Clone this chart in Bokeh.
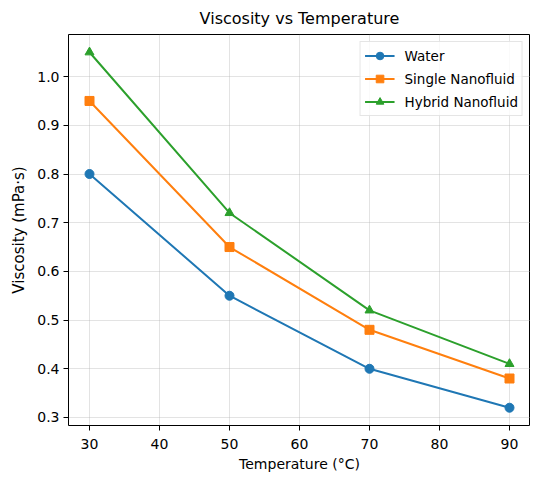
from bokeh.plotting import figure
from bokeh.models import FixedTicker, Range1d, Legend, LegendItem, NumeralTickFormatter, Title
from bokeh.embed import file_html
from bokeh.resources import INLINE

temperature = [30, 50, 70, 90]
water = [0.80, 0.55, 0.40, 0.32]
single_nf = [0.95, 0.65, 0.48, 0.38]
hybrid_nf = [1.05, 0.72, 0.52, 0.41]

series = [
    ("Water", water, "#1f77b4", "circle"),
    ("Single Nanofluid", single_nf, "#ff7f0e", "square"),
    ("Hybrid Nanofluid", hybrid_nf, "#2ca02c", "triangle"),
]

x_ticks = [30, 40, 50, 60, 70, 80, 90]
y_ticks = [0.3, 0.4, 0.5, 0.6, 0.7, 0.8, 0.9, 1.0]

FONT = "DejaVu Sans"

p = figure(width=530, height=474, output_backend="svg", toolbar_location=None,
           title="Viscosity vs Temperature",
           x_range=Range1d(27, 93), y_range=Range1d(0.2835, 1.0865),
           min_border_left=0, min_border_right=0, min_border_top=0, min_border_bottom=0)

p.title.text_font = FONT
p.title.text_font_size = "16px"
p.title.text_font_style = "normal"
p.title.align = "center"
p.title.text_color = "#000000"
p.title.standoff = 13

p.outline_line_color = "#000000"
p.outline_line_width = 1
p.outline_line_alpha = 1

for ax in (p.xaxis[0], p.yaxis[0]):
    ax.axis_line_color = None
    ax.major_tick_line_color = "#000000"
    ax.major_tick_out = 5
    ax.major_tick_in = 0
    ax.minor_tick_line_color = None
    ax.major_label_text_font = FONT
    ax.major_label_text_font_size = "14px"
    ax.major_label_text_color = "#000000"
    ax.axis_label_text_font = FONT
    ax.axis_label_text_font_size = "14px"
    ax.axis_label_text_font_style = "normal"
    ax.axis_label_text_color = "#000000"

p.xaxis.ticker = FixedTicker(ticks=x_ticks)
p.yaxis.ticker = FixedTicker(ticks=y_ticks)
p.yaxis.formatter = NumeralTickFormatter(format="0.0")
p.xaxis.axis_label = "Temperature (°C)"
p.xaxis.major_label_standoff = 8
p.yaxis.major_label_standoff = 4
p.xaxis.axis_label_standoff = 4

ylabel = Title(text="Viscosity (mPa·s)", align="center", text_font=FONT,
               text_font_size="15px", text_font_style="normal", text_color="#000000",
               padding=7, standoff=0)
p.add_layout(ylabel, "left")

p.xgrid.ticker = FixedTicker(ticks=x_ticks)
p.ygrid.ticker = FixedTicker(ticks=y_ticks)
p.grid.grid_line_color = "#b0b0b0"
p.grid.grid_line_alpha = 0.35
p.grid.grid_line_width = 1

items = []
for label, vals, color, marker in series:
    r1 = p.line(temperature, vals, line_color=color, line_width=2)
    r2 = p.scatter(temperature, vals, marker=marker, size=9, fill_color=color, line_color=color)
    items.append(LegendItem(label=label, renderers=[r1, r2]))

legend = Legend(items=items, location="top_right")
legend.label_text_font = FONT
legend.label_text_font_size = "13.5px"
legend.label_text_color = "#000000"
legend.border_line_color = "#cccccc"
legend.border_line_width = 1
legend.background_fill_alpha = 0.8
legend.glyph_width = 30
legend.glyph_height = 19
legend.spacing = 4
legend.padding = 4
legend.margin = 7
legend.label_standoff = 10
p.add_layout(legend, "center")

open("out.html", "w").write(file_html(p, INLINE))
